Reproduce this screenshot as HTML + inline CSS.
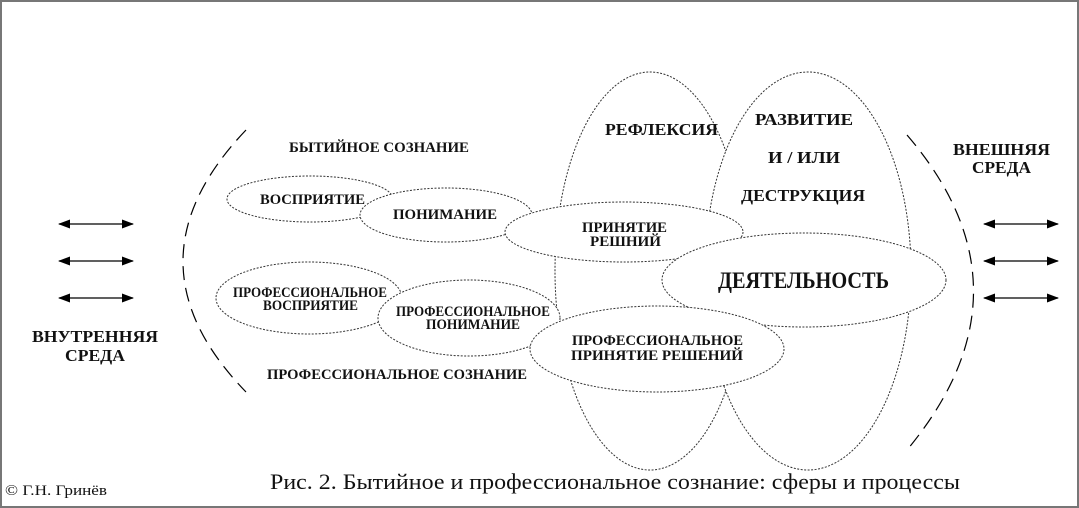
<!DOCTYPE html>
<html><head><meta charset="utf-8"><style>
html,body{margin:0;padding:0;background:#fff}
svg{display:block}
.b{font-family:"Liberation Serif",serif;font-weight:bold;fill:#111}
.e{fill:#fff;stroke:#333;stroke-width:1;stroke-dasharray:2 1.5}
</style></head><body>
<svg width="1079" height="508" viewBox="0 0 1079 508" xmlns="http://www.w3.org/2000/svg">
<defs><marker id="a" viewBox="0 0 12 9" refX="11" refY="4.5" markerWidth="12" markerHeight="9" orient="auto-start-reverse" markerUnits="userSpaceOnUse"><path d="M0,0L12,4.5L0,9z" fill="#000"/></marker></defs>
<rect x="1" y="1" width="1077" height="506" fill="#fff" stroke="#777" stroke-width="2"/>
<g stroke="#000" stroke-width="1.3" marker-start="url(#a)" marker-end="url(#a)">
<line x1="59" y1="224" x2="133" y2="224"/><line x1="59" y1="261" x2="133" y2="261"/><line x1="59" y1="298" x2="133" y2="298"/>
<line x1="984" y1="224" x2="1058" y2="224"/><line x1="984" y1="261" x2="1058" y2="261"/><line x1="984" y1="298" x2="1058" y2="298"/>
</g>
<path d="M246,130 Q120,262 246,392" fill="none" stroke="#000" stroke-width="1.2" stroke-dasharray="14 8"/>
<path d="M907,135 Q1040,290 907,450" fill="none" stroke="#000" stroke-width="1.2" stroke-dasharray="14 8"/>
<ellipse class="e" cx="650" cy="271" rx="95" ry="199"/>
<ellipse class="e" cx="808" cy="271" rx="103" ry="199"/>
<ellipse class="e" cx="310" cy="199" rx="83" ry="23"/>
<ellipse class="e" cx="446" cy="215" rx="86" ry="27"/>
<ellipse class="e" cx="624" cy="232" rx="119" ry="30"/>
<ellipse class="e" cx="804" cy="280" rx="142" ry="47"/>
<ellipse class="e" cx="309" cy="298" rx="93" ry="36"/>
<ellipse class="e" cx="469" cy="318" rx="91" ry="38"/>
<ellipse class="e" cx="657" cy="349" rx="127" ry="43"/>
<g class="b" font-size="14.5">
<text x="289" y="152" textLength="180" lengthAdjust="spacingAndGlyphs">БЫТИЙНОЕ СОЗНАНИЕ</text>
<text x="260" y="204" textLength="105" lengthAdjust="spacingAndGlyphs">ВОСПРИЯТИЕ</text>
<text x="393" y="219" textLength="104" lengthAdjust="spacingAndGlyphs">ПОНИМАНИЕ</text>
<text x="582" y="232" textLength="85" lengthAdjust="spacingAndGlyphs">ПРИНЯТИЕ</text>
<text x="590" y="246" textLength="71" lengthAdjust="spacingAndGlyphs">РЕШНИЙ</text>
<text x="233" y="297" textLength="154" lengthAdjust="spacingAndGlyphs">ПРОФЕССИОНАЛЬНОЕ</text>
<text x="263" y="310" textLength="95" lengthAdjust="spacingAndGlyphs">ВОСПРИЯТИЕ</text>
<text x="396" y="316" textLength="154" lengthAdjust="spacingAndGlyphs">ПРОФЕССИОНАЛЬНОЕ</text>
<text x="426" y="329" textLength="94" lengthAdjust="spacingAndGlyphs">ПОНИМАНИЕ</text>
<text x="572" y="345" textLength="171" lengthAdjust="spacingAndGlyphs">ПРОФЕССИОНАЛЬНОЕ</text>
<text x="571" y="360" textLength="172" lengthAdjust="spacingAndGlyphs">ПРИНЯТИЕ РЕШЕНИЙ</text>
<text x="267" y="379" textLength="260" lengthAdjust="spacingAndGlyphs">ПРОФЕССИОНАЛЬНОЕ СОЗНАНИЕ</text>
</g>
<g class="b" font-size="17">
<text x="605" y="135" textLength="113" lengthAdjust="spacingAndGlyphs">РЕФЛЕКСИЯ</text>
<text x="755" y="125" textLength="98" lengthAdjust="spacingAndGlyphs">РАЗВИТИЕ</text>
<text x="768" y="163" textLength="72" lengthAdjust="spacingAndGlyphs">И / ИЛИ</text>
<text x="741" y="201" textLength="124" lengthAdjust="spacingAndGlyphs">ДЕСТРУКЦИЯ</text>
<text x="32" y="342" textLength="126" lengthAdjust="spacingAndGlyphs">ВНУТРЕННЯЯ</text>
<text x="65" y="361" textLength="60" lengthAdjust="spacingAndGlyphs">СРЕДА</text>
<text x="953" y="155" textLength="97" lengthAdjust="spacingAndGlyphs">ВНЕШНЯЯ</text>
<text x="972" y="173" textLength="59" lengthAdjust="spacingAndGlyphs">СРЕДА</text>
</g>
<text class="b" x="718" y="288" font-size="23" textLength="171" lengthAdjust="spacingAndGlyphs">ДЕЯТЕЛЬНОСТЬ</text>
<text x="270" y="489" font-family="Liberation Serif,serif" font-size="22" fill="#111" textLength="690" lengthAdjust="spacingAndGlyphs">Рис. 2. Бытийное и профессиональное сознание: сферы и процессы</text>
<text x="5" y="495" font-family="Liberation Serif,serif" font-size="15" fill="#111" textLength="102" lengthAdjust="spacingAndGlyphs">©  Г.Н. Гринёв</text>
</svg>
</body></html>
